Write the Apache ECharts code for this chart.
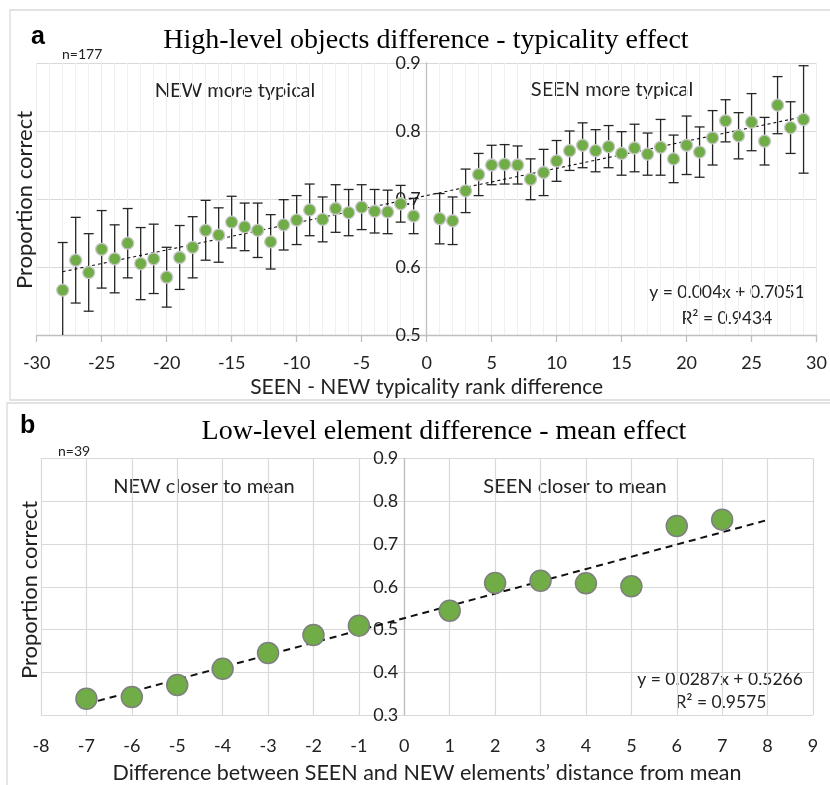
<!DOCTYPE html>
<html>
<head>
<meta charset="utf-8">
<script src="https://cdn.jsdelivr.net/npm/echarts@6/dist/echarts.min.js"></script>
<style>
html,body{margin:0;padding:0;background:#fff;}
#chart{width:830px;height:785px;}
</style>
</head>
<body>
<div id="chart"></div>
<script>
// ---------- Panel a data ----------
const aX = [-28,-27,-26,-25,-24,-23,-22,-21,-20,-19,-18,-17,-16,-15,-14,-13,-12,-11,-10,-9,-8,-7,-6,-5,-4,-3,-2,-1,
            1,2,3,4,5,6,7,8,9,10,11,12,13,14,15,16,17,18,19,20,21,22,23,24,25,26,27,28,29];
const aMean = [0.566,0.610,0.592,0.626,0.612,0.635,0.605,0.612,0.585,0.614,0.629,0.654,0.647,0.666,0.659,0.654,0.637,0.662,0.669,0.684,0.670,0.686,0.680,0.688,0.682,0.681,0.693,0.675,
               0.671,0.668,0.712,0.736,0.750,0.751,0.750,0.729,0.739,0.756,0.771,0.779,0.771,0.777,0.767,0.775,0.766,0.776,0.759,0.779,0.769,0.790,0.815,0.793,0.813,0.785,0.838,0.805,0.817];
const aErr = [0.070,0.063,0.057,0.057,0.050,0.051,0.053,0.051,0.044,0.047,0.045,0.044,0.040,0.038,0.035,0.040,0.040,0.037,0.036,0.038,0.033,0.035,0.034,0.033,0.032,0.032,0.027,0.026,
              0.037,0.035,0.032,0.031,0.029,0.029,0.028,0.030,0.034,0.030,0.029,0.033,0.031,0.031,0.032,0.035,0.031,0.041,0.035,0.043,0.037,0.040,0.031,0.034,0.042,0.035,0.042,0.038,0.079];
const aTrend = {slope: 0.004, intercept: 0.7051, from: -28, to: 29};
const aXTicks = [-30,-25,-20,-15,-10,-5,0,5,10,15,20,25,30];
const aYTicks = [0.5,0.6,0.7,0.8,0.9];

// ---------- Panel b data ----------
const bX = [-7,-6,-5,-4,-3,-2,-1,1,2,3,4,5,6,7];
const bMean = [0.338,0.342,0.370,0.408,0.445,0.487,0.509,0.544,0.609,0.614,0.608,0.601,0.742,0.757];
const bTrend = {slope: 0.0287, intercept: 0.5266, from: -7, to: 8};
const bXTicks = [-8,-7,-6,-5,-4,-3,-2,-1,0,1,2,3,4,5,6,7,8,9];
const bYTicks = [0.3,0.4,0.5,0.6,0.7,0.8,0.9];

const FONT = 'Lato, "Open Sans", sans-serif';
const SERIF = '"Liberation Serif", "Times New Roman", serif';
const GREEN = '#70ad47';

const trendPts = t => [[t.from, t.slope*t.from + t.intercept],[t.to, t.slope*t.to + t.intercept]];

const chart = echarts.init(document.getElementById('chart'), null, {renderer:'canvas'});

const errData = aX.map((x,i)=>[x, aMean[i]-aErr[i], aMean[i]+aErr[i]]);

// grid geometry
const gA = {left:36.7, right:13.3, top:63, bottom:450};
const gB = {left:41, right:17, top:458.5, bottom:70};
const plotWA = 830 - gA.left - gA.right;
const plotWB = 830 - gB.left - gB.right;
// y axis placed at x = 0
const offA = -plotWA * (0 - aXTicks[0]) / (aXTicks[aXTicks.length-1] - aXTicks[0]);
const offB = -plotWB * (0 - bXTicks[0]) / (bXTicks[bXTicks.length-1] - bXTicks[0]);

const option = {
  backgroundColor:'#fff',
  animation:false,
  grid:[
    Object.assign({}, gA),
    Object.assign({}, gB)
  ],
  xAxis:[
    {gridIndex:0, type:'value', min:aXTicks[0], max:aXTicks[aXTicks.length-1], interval:5,
     axisLine:{show:true, onZero:false, lineStyle:{color:'#bfbfbf', width:1.3}},
     axisTick:{show:true, length:7, lineStyle:{color:'#bfbfbf', width:1.3}},
     axisLabel:{fontFamily:FONT, fontSize:18, color:'#222', margin:19},
     splitLine:{show:true, lineStyle:{color:'#ececec', width:1}},
     minorTick:{show:false, splitNumber:5},
     minorSplitLine:{show:true, lineStyle:{color:'#f0f0f0', width:1}},
     name:'SEEN - NEW typicality rank difference', nameLocation:'middle', nameGap:42,
     nameTextStyle:{fontFamily:FONT, fontSize:21, color:'#222'}
    },
    {gridIndex:1, type:'value', min:bXTicks[0], max:bXTicks[bXTicks.length-1], interval:1,
     axisLine:{show:false, onZero:false},
     axisTick:{show:false},
     axisLabel:{fontFamily:FONT, fontSize:18, color:'#222', margin:22},
     splitLine:{show:true, lineStyle:{color:'#d9d9d9', width:1.2}},
     name:'Difference between SEEN and NEW elements\u2019 distance from mean', nameLocation:'middle', nameGap:47,
     nameTextStyle:{fontFamily:FONT, fontSize:21.5, color:'#222'}
    }
  ],
  yAxis:[
    {gridIndex:0, type:'value', min:aYTicks[0], max:aYTicks[aYTicks.length-1], interval:0.1,
     offset:offA,
     axisLine:{show:true, onZero:false, lineStyle:{color:'#bfbfbf', width:1.3}},
     axisTick:{show:false},
     axisLabel:{fontFamily:FONT, fontSize:18, color:'#222', margin:6, formatter:v=>v.toFixed(1)},
     splitLine:{show:true, lineStyle:{color:'#d9d9d9', width:1.2}}
    },
    {gridIndex:1, type:'value', min:bYTicks[0], max:bYTicks[bYTicks.length-1], interval:0.1,
     offset:offB,
     axisLine:{show:true, onZero:false, lineStyle:{color:'#bfbfbf', width:1.3}},
     axisTick:{show:false},
     axisLabel:{fontFamily:FONT, fontSize:18, color:'#222', margin:6, formatter:v=>v.toFixed(1)},
     splitLine:{show:true, lineStyle:{color:'#d9d9d9', width:1.2}}
    }
  ],
  series:[
    {type:'custom', xAxisIndex:0, yAxisIndex:0, clip:true, z:3,
     data:errData,
     renderItem:(params, api)=>{
       const x = api.value(0);
       const lo = api.coord([x, api.value(1)]);
       const hi = api.coord([x, api.value(2)]);
       const w = 5;
       const st = {stroke:'#262626', lineWidth:1.3};
       return {type:'group', children:[
         {type:'line', shape:{x1:lo[0], y1:lo[1], x2:hi[0], y2:hi[1]}, style:st},
         {type:'line', shape:{x1:lo[0]-w, y1:lo[1], x2:lo[0]+w, y2:lo[1]}, style:st},
         {type:'line', shape:{x1:hi[0]-w, y1:hi[1], x2:hi[0]+w, y2:hi[1]}, style:st}
       ]};
     }
    },
    {type:'line', xAxisIndex:0, yAxisIndex:0, data:trendPts(aTrend), symbol:'none', z:4,
     lineStyle:{color:'#111', width:1.1, type:[3,3]}},
    {type:'scatter', xAxisIndex:0, yAxisIndex:0, z:5,
     data:aX.map((x,i)=>[x,aMean[i]]), symbolSize:12,
     itemStyle:{color:GREEN, borderColor:'#c8c8c8', borderWidth:1.3, opacity:1}},
    {type:'line', xAxisIndex:1, yAxisIndex:1, data:trendPts(bTrend), symbol:'none', z:4,
     lineStyle:{color:'#111', width:2, type:[7,5]}},
    {type:'scatter', xAxisIndex:1, yAxisIndex:1, z:5,
     data:bX.map((x,i)=>[x,bMean[i]]), symbolSize:21,
     itemStyle:{color:GREEN, borderColor:'#7f7f7f', borderWidth:1.5, opacity:1}}
  ],
  graphic:[
    {type:'rect', shape:{x:10, y:10, width:830, height:390}, style:{fill:'none', stroke:'#d9d9d9', lineWidth:1.3}, z:-10},
    {type:'rect', shape:{x:7, y:403, width:830, height:390}, style:{fill:'none', stroke:'#d9d9d9', lineWidth:1.3}, z:-10},
    {type:'text', x:31, y:37, style:{text:'a', font:'bold 25px "Liberation Sans", Arial, sans-serif', fill:'#000', textVerticalAlign:'middle'}},
    {type:'text', x:426, y:41, style:{text:'High-level objects difference - typicality effect', font:'28px '+SERIF, fill:'#000', textAlign:'center', textVerticalAlign:'middle'}},
    {type:'text', x:62, y:54, style:{text:'n=177', font:'14px '+FONT, fill:'#222', textVerticalAlign:'middle'}},
    {type:'text', x:235, y:91, style:{text:'NEW more typical', font:'20px '+FONT, fill:'#222', textAlign:'center', textVerticalAlign:'middle'}},
    {type:'text', x:612, y:90, style:{text:'SEEN more typical', font:'20px '+FONT, fill:'#222', textAlign:'center', textVerticalAlign:'middle'}},
    {type:'text', x:727, y:292, style:{text:'y = 0.004x + 0.7051', font:'17.5px '+FONT, fill:'#222', textAlign:'center', textVerticalAlign:'middle'}},
    {type:'text', x:727, y:318, style:{text:'R\u00b2 = 0.9434', font:'17.5px '+FONT, fill:'#222', textAlign:'center', textVerticalAlign:'middle'}},
    {type:'text', x:25, y:200, rotation:Math.PI/2, style:{text:'Proportion correct', font:'22px '+FONT, fill:'#222', textAlign:'center', textVerticalAlign:'middle'}},

    {type:'text', x:20, y:426, style:{text:'b', font:'bold 25px "Liberation Sans", Arial, sans-serif', fill:'#000', textVerticalAlign:'middle'}},
    {type:'text', x:444, y:432, style:{text:'Low-level element difference - mean effect', font:'28px '+SERIF, fill:'#000', textAlign:'center', textVerticalAlign:'middle'}},
    {type:'text', x:58, y:451, style:{text:'n=39', font:'14px '+FONT, fill:'#222', textVerticalAlign:'middle'}},
    {type:'text', x:204, y:487, style:{text:'NEW closer to mean', font:'20px '+FONT, fill:'#222', textAlign:'center', textVerticalAlign:'middle'}},
    {type:'text', x:575, y:487, style:{text:'SEEN closer to mean', font:'20px '+FONT, fill:'#222', textAlign:'center', textVerticalAlign:'middle'}},
    {type:'text', x:720, y:679, style:{text:'y = 0.0287x + 0.5266', font:'17.5px '+FONT, fill:'#222', textAlign:'center', textVerticalAlign:'middle'}},
    {type:'text', x:721, y:702, style:{text:'R\u00b2 = 0.9575', font:'17.5px '+FONT, fill:'#222', textAlign:'center', textVerticalAlign:'middle'}},
    {type:'text', x:30, y:590, rotation:Math.PI/2, style:{text:'Proportion correct', font:'22px '+FONT, fill:'#222', textAlign:'center', textVerticalAlign:'middle'}}
  ]
};
chart.setOption(option);
</script>
</body>
</html>
